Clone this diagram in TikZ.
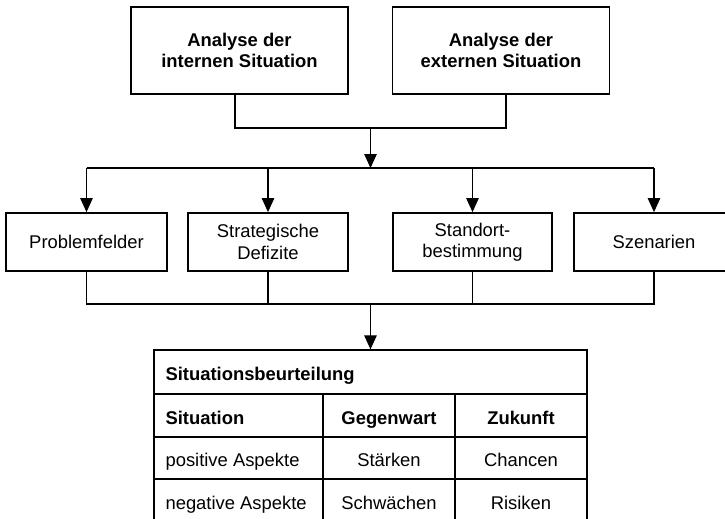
\documentclass[tikz,border=0pt]{standalone}
\usepackage{fontspec}
\setmainfont{Liberation Sans}
\usetikzlibrary{arrows.meta,calc}
\begin{document}
\begin{tikzpicture}[x=1pt,y=-1pt,
  every node/.style={font=\fontsize{18.4}{21.5}\selectfont, inner sep=0pt},
  topbox/.style={draw, line width=1.8pt, minimum width=217pt, minimum height=87pt, align=center, font=\fontsize{18.4}{21.7}\selectfont\bfseries},
  rowbox/.style={draw, line width=1.8pt, minimum width=160pt, minimum height=58pt, align=center},
  cell/.style={draw, line width=1.3pt, minimum height=43pt},
  txt/.style={text height=21pt, text depth=3.9pt},
  conn/.style={line width=1.1pt},
  arr/.style={conn, -{Triangle[width=12.5pt,length=14pt]}}
]
\useasboundingbox (0,0) rectangle (725,519);
\clip (0,0) rectangle (725,519);

% top boxes
\node[topbox] (ai) at (239.5,50.5) {Analyse der\\internen Situation};
\node[topbox] (ae) at (501,50.5) {Analyse der\\externen Situation};

\coordinate (j1) at (370.5,128);
\coordinate (bus1) at (370.5,168);
\coordinate (bus2) at (370.5,304);

% row boxes
\node[rowbox, minimum width=161pt] (pf) at (86.5,242) {Problemfelder};
\node[rowbox] (sd) at (268,242) {Strategische\\Defizite};
\node[rowbox, minimum width=159pt] (so) at (472.5,242) {Standort-\\bestimmung};
\node[rowbox] (sz) at (654,242) {Szenarien};

% table cells
\node[cell, minimum width=433pt, minimum height=44pt] (title) at (370.5,372) {};
\node[cell, minimum width=169pt] (h1) at (238.5,415.5) {};
\node[cell, minimum width=132pt, txt] (h2) at (389,415.5) {\bfseries Gegenwart};
\node[cell, minimum width=132pt, txt] (h3) at (521,415.5) {\bfseries Zukunft};
\node[cell, minimum width=169pt, minimum height=42pt] (p1) at (238.5,458) {};
\node[cell, minimum width=132pt, minimum height=42pt, txt] (p2) at (389,458) {Stärken};
\node[cell, minimum width=132pt, minimum height=42pt, txt] (p3) at (521,458) {Chancen};
\node[cell, minimum width=169pt] (n1) at (238.5,500.5) {};
\node[cell, minimum width=132pt, txt] (n2) at (389,500.5) {Schwächen};
\node[cell, minimum width=132pt, txt] (n3) at (521,500.5) {Risiken};
% left-aligned texts
\node[txt, anchor=west] (tt) at ([xshift=12pt]title.west) {\bfseries Situationsbeurteilung};
\node[txt, anchor=west] (t1) at ([xshift=12pt]h1.west) {\bfseries Situation};
\node[txt, anchor=west] (t2) at ([xshift=12pt]p1.west) {positive Aspekte};
\node[txt, anchor=west] (t3) at ([xshift=12pt]n1.west) {negative Aspekte};

% connectors top
\draw[conn] ([xshift=-4.5pt]ai.south) |- (j1);
\draw[conn] ([xshift=5pt]ae.south) |- (j1);
\draw[arr] (j1) -- (bus1);
\draw[conn] (pf.north |- bus1) -- (sz.north |- bus1);
\draw[arr] (pf.north |- bus1) -- (pf.north);
\draw[arr] (sd.north |- bus1) -- (sd.north);
\draw[arr] (so.north |- bus1) -- (so.north);
\draw[arr] (sz.north |- bus1) -- (sz.north);

% connectors bottom
\draw[conn] (pf.south) |- (sz.south |- bus2) -- (sz.south);
\draw[conn] (sd.south) -- (sd.south |- bus2);
\draw[conn] (so.south) -- (so.south |- bus2);
\draw[arr] (bus2) -- (title.north);
\end{tikzpicture}
\end{document}
